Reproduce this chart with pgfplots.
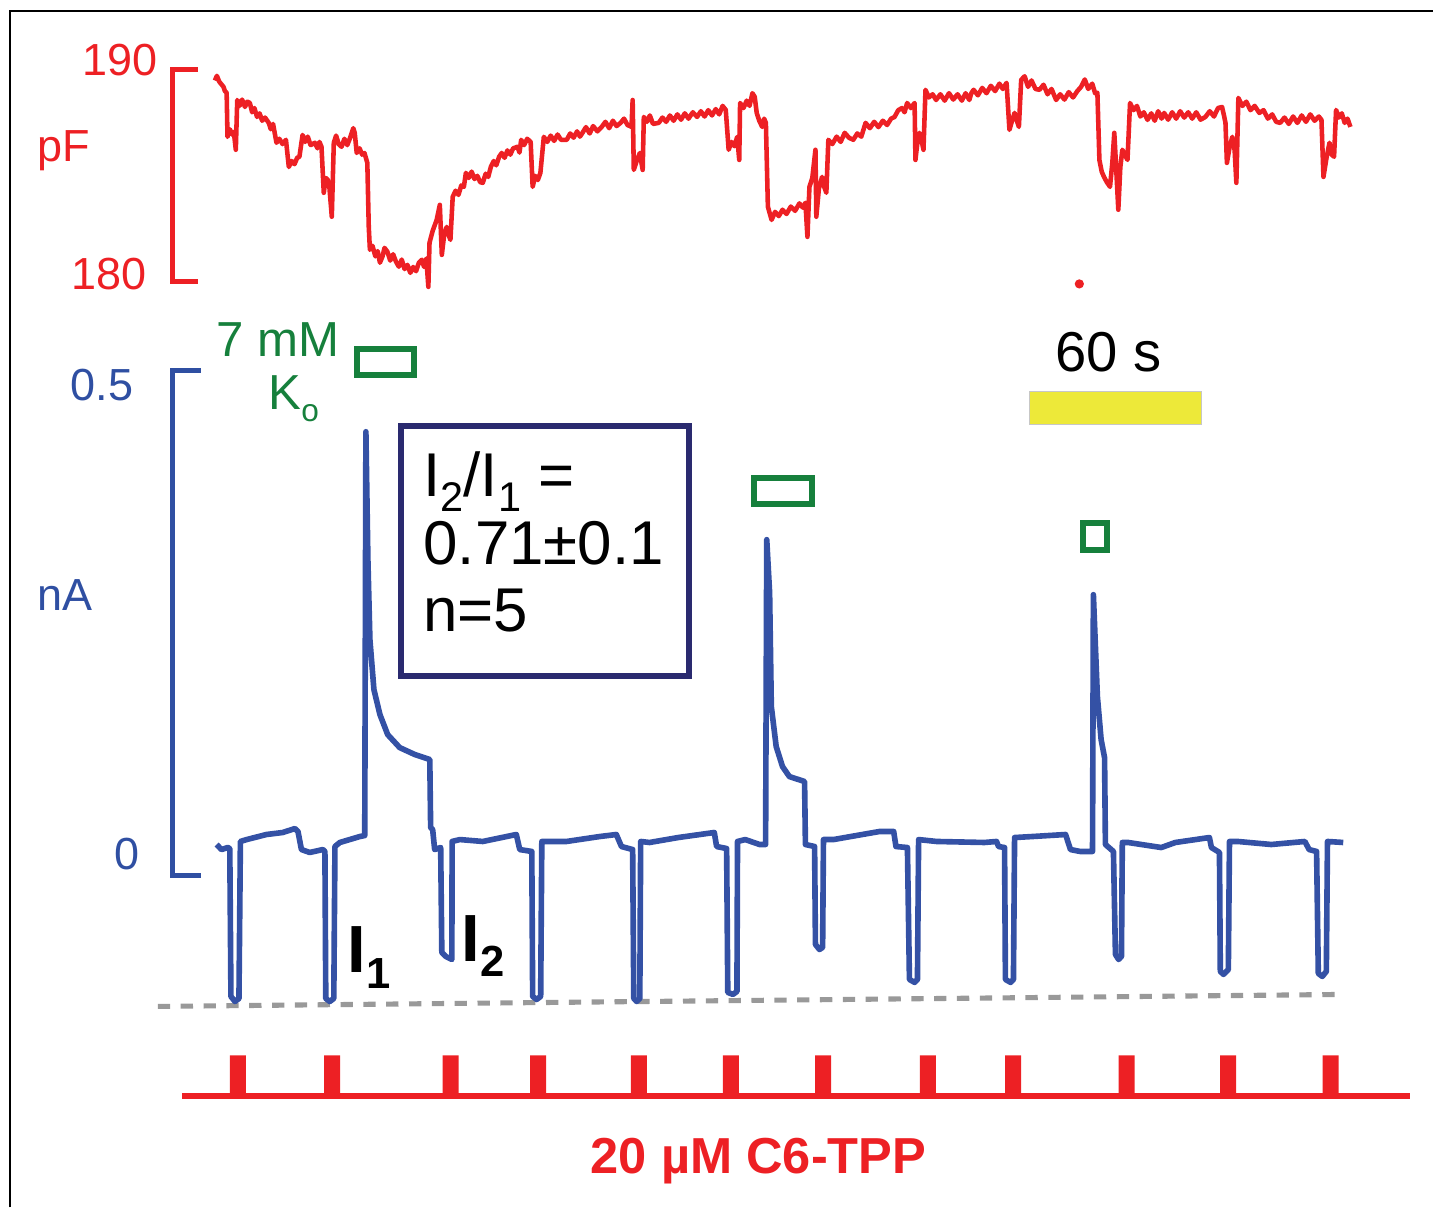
\documentclass[border=0pt]{standalone}
\usepackage{fontspec}
\setmainfont{Liberation Sans}
\usepackage{pgfplots}
\pgfplotsset{compat=1.18}
\definecolor{CapRed}{HTML}{ED2024}
\definecolor{CurBlue}{HTML}{3451A5}
\definecolor{LblBlue}{HTML}{2F4FA2}
\definecolor{KGreen}{HTML}{16803C}
\definecolor{BoxNavy}{HTML}{2A2A6F}
\definecolor{BarYel}{HTML}{EDE939}
\definecolor{DashGray}{HTML}{999999}

% every panel shares the same frame: time in s along x
\pgfplotsset{panel/.style={scale only axis,width=14.34cm,height=12.08cm,
  xmin=-75,xmax=425.2,hide axis,clip=false,at={(0,0)},anchor=south west}}

\begin{document}
\begin{tikzpicture}
% ---- stimulus (C6-TPP) panel, 0 = off, 1 = on
\begin{axis}[panel,ymin=-2.7073,ymax=26.756]
\path (rel axis cs:0,0) rectangle (rel axis cs:1,1);
\draw[black,line width=0.45pt] (rel axis cs:0.00697,0) -- (rel axis cs:0.00697,0.99089) -- (rel axis cs:1,0.99089);
\addplot[CapRed,line width=1.71pt] coordinates {(-11.5,0) (417.2,0)};
\addplot[ybar,bar width=5.58,fill=CapRed,draw=none] coordinates {
  (8.0,1) (40.9,1) (82.3,1) (112.8,1) (148.0,1) (180.1,1)
  (212.3,1) (248.8,1) (278.6,1) (318.2,1) (353.6,1) (389.4,1)};
\node[anchor=base,inner sep=0,CapRed] at (rel axis cs:0.5293,0.0281)
  {\fontsize{14.4}{17}\selectfont\bfseries 20 µM C6-TPP};
\end{axis}

% ---- capacitance panel (pF)
\begin{axis}[panel,ymin=136.32,ymax=193.30]
\addplot[CapRed,line width=1.42pt,line join=miter] coordinates {(-5.93,190) (-14.8,190) (-14.8,180) (-5.93,180)};
\addplot[CapRed,line width=1.3pt,line join=round] coordinates {
(0,189.5) (0.7,189.72) (1.5,189.45) (2.1,189.35) (3,189.2) (3.5,189.0) (4.1,188.92)
(4.4,186.84) (5.2,187.2) (6.0,186.95) (6.6,187.08) (7.3,186.23) (7.8,188.58) (8.6,188.3) (9.5,188.6)
(10.5,188.25) (11.3,188.5) (12.2,188.44) (13.0,188.0) (13.8,188.2) (14.7,187.78) (15.6,187.95)
(16.5,187.6) (17.5,187.75) (18.8,187.5) (19.5,187.2) (20.3,187.45) (21.5,186.56) (22.5,186.75)
(23.6,186.5) (24.8,186.7) (25.8,185.42) (26.8,185.7) (27.8,185.55) (28.7,185.85) (29.5,185.9)
(30.6,186.93) (31.5,186.6) (32.4,186.85) (33.4,186.45) (34.9,186.56) (35.8,186.3) (36.5,186.6)
(37.2,186.37) (38.0,184.2) (38.7,184.9) (39.4,184.81) (40.0,184.4) (40.8,183.07) (41.5,186.56)
(42.3,186.9) (43.2,186.5) (44.2,186.37) (45.2,186.75) (46.2,186.45) (47.2,186.8) (48.3,187.25)
(48.8,187.03) (49.5,186.08) (50.5,186.3) (51.4,186.0) (52.2,186.08) (53.2,185.61) (53.7,182.59)
(54.1,181.51) (55.0,181.7) (56.0,181.2) (56.8,181.45) (57.6,180.9) (58.5,181.2) (59.2,181.6)
(60.2,181.42) (61.2,181.0) (62.2,181.3) (63.2,180.95) (64.2,180.71) (65.2,181.05) (66.2,180.6)
(67.2,180.8) (68.2,180.42) (69.2,180.7) (70.2,180.5) (71.2,180.9) (72.2,181.04) (73.0,180.7)
(73.8,181.1) (74.5,179.76) (74.9,181.84) (76.0,182.4) (77.4,182.92) (78.5,183.63) (79.2,181.27)
(80.0,182.2) (80.9,182.59) (81.6,182.2) (82.2,181.98) (83.0,184.01) (84.0,184.3) (85.0,184.1)
(86.0,184.55) (86.9,184.48) (87.6,185.14) (88.6,184.9) (89.6,185.2) (90.6,184.85) (91.6,185.0)
(92.6,184.7) (93.5,184.67) (94.5,185.1) (95.4,184.95) (96.3,185.42) (97.3,185.7) (98.2,185.5)
(99.2,185.9) (100.1,186.08) (101.1,185.85) (102.1,186.2) (103.1,186.0) (104.1,186.3) (105.6,186.37)
(106.3,186.1) (106.9,186.7) (107.9,186.45) (109.0,186.75) (110.2,186.6) (110.9,184.48) (111.8,185.0)
(112.7,184.8) (113.6,185.14) (114.8,186.84) (116.0,186.6) (117.2,186.9) (118.4,186.65) (119.6,186.95)
(120.8,186.7) (122.8,186.7) (124.0,187.0) (125.2,186.8) (126.4,187.1) (127.4,186.85) (128.3,187.03)
(129.5,187.3) (130.8,187.0) (132.0,187.35) (133.5,187.1) (135.0,187.31) (136.3,187.55) (137.6,187.25)
(138.9,187.6) (140.2,187.35) (141.6,187.5) (142.8,187.7) (144.0,187.4) (145.4,187.31) (145.8,188.58)
(146.2,185.28) (147.2,185.7) (148.3,186.08) (149.3,185.28) (149.7,187.78) (150.8,187.55) (151.8,187.85)
(152.9,187.45) (154.9,187.5) (156.2,187.75) (157.5,187.55) (158.8,187.85) (160.1,187.6) (161.4,187.9)
(162.7,187.65) (164.0,187.95) (165.3,187.7) (166.8,188.0) (168.3,187.78) (169.6,188.05) (170.9,187.8)
(172.2,188.1) (173.5,187.85) (174.8,188.15) (176.0,187.9) (177.2,188.3) (178.3,188.11) (179.3,186.23)
(180.3,186.6) (181.3,186.4) (182.3,186.84) (183.0,185.75) (183.3,188.44) (184.5,188.2) (185.6,188.55)
(186.6,188.3) (187.6,188.9) (188.4,188.73) (189.1,187.97) (190.0,187.6) (191.0,187.31) (191.7,187.7)
(192.3,187.5) (193.0,183.54) (194.3,182.92) (195.5,183.3) (196.8,183.1) (198.1,183.4) (199.5,183.2)
(201.0,183.55) (202.5,183.35) (204.0,183.7) (205.2,183.5) (206.1,183.73) (206.8,182.12) (207.5,184.48)
(208.5,184.9) (209.6,186.23) (209.9,183.07) (210.8,184.4) (211.9,184.95) (212.6,184.5) (213.4,184.2)
(214.1,186.7) (215.5,186.5) (217.0,186.85) (218.4,186.6) (219.8,187.03) (221.3,186.8) (222.8,186.7)
(224.2,187.0) (225.6,186.85) (227.1,187.5) (228.6,187.25) (230.1,187.55) (231.6,187.3) (233.1,187.6)
(234.6,187.4) (236.0,187.7) (237.2,187.78) (238.5,188.1) (239.8,188.2) (240.7,188.0) (241.6,188.44)
(242.9,188.2) (244.2,188.44) (244.5,185.75) (245.2,186.6) (245.9,187.03) (246.6,186.7) (247.3,186.23)
(248.0,189.06) (249.2,188.7) (250.5,188.85) (251.7,188.58) (253.2,188.85) (254.7,188.55) (256.2,188.9)
(257.7,188.6) (259.2,188.85) (260.7,188.55) (262.0,188.9) (263.3,188.58) (264.0,188.9) (264.8,189.06)
(266.3,188.8) (267.8,189.15) (269.3,188.9) (270.8,189.25) (272.3,189.0) (273.8,189.35) (275.0,189.1)
(276.3,189.39) (277.3,187.17) (278.2,187.6) (279.1,187.97) (279.9,187.6) (280.6,187.31) (281.4,189.53)
(282.6,189.7) (283.8,189.2) (285.0,189.5) (286.4,189.1) (287.8,189.06) (289.2,189.3) (290.6,188.85)
(292.0,189.1) (293.6,188.58) (295.0,188.85) (296.5,188.6) (298.0,188.95) (299.5,188.7) (301.0,189.0)
(302.3,189.2) (303.6,189.55) (304.8,189.1) (306.2,189.35) (307.2,188.9) (308.0,188.92) (308.7,185.75)
(309.5,185.2) (310.3,184.95) (311.3,184.7) (312.4,184.48) (313.2,185.6) (313.9,187.03) (314.5,185.5)
(315.3,183.4) (316.0,185.4) (316.7,186.23) (317.6,186.0) (318.5,185.75) (319.4,188.44) (320.6,188.1)
(321.8,188.3) (323.0,187.8) (324.2,188.0) (325.5,187.64) (326.8,187.95) (328.0,187.6) (329.2,188.05)
(330.4,187.7) (331.3,187.97) (332.7,187.65) (334.1,188.0) (335.5,187.7) (336.9,188.05) (338.3,187.75)
(339.7,188.0) (341.1,187.7) (342.5,188.0) (344.0,187.65) (345.7,187.78) (347.2,188.05) (348.7,187.8)
(350.1,188.2) (351.5,188.25) (352.1,187.9) (352.7,187.5) (353.2,185.61) (354.2,186.4) (355.1,186.84)
(355.9,186.2) (356.5,184.67) (357.2,188.68) (358.6,188.3) (360.0,188.5) (361.4,188.1) (362.9,188.3)
(364.5,187.97) (366.0,188.1) (367.5,187.7) (369.0,187.9) (370.4,187.55) (371.8,187.5) (373.3,187.75)
(374.8,187.45) (376.3,187.8) (377.8,187.5) (379.3,187.85) (380.8,187.55) (382.3,187.9) (383.8,187.6)
(385.3,187.8) (386.2,187.64) (386.9,184.95) (387.9,185.8) (389.0,186.56) (389.8,186.0) (390.6,185.9)
(391.3,188.11) (392.3,187.75) (393.3,187.95) (394.3,187.5) (395.3,187.7) (396.3,187.31)};
\addplot[only marks,mark=*,mark size=1.1pt,CapRed] coordinates {(301.7,179.9)};
\end{axis}

% ---- membrane current panel (nA)
\begin{axis}[panel,ymin=-0.3287,ymax=0.8673]
\addplot[DashGray,line width=1.45pt,dash pattern=on 3.5pt off 3.0pt] coordinates {(-19.9,-0.1297) (394.2,-0.1178)};
\addplot[LblBlue,line width=1.42pt,line join=miter] coordinates {(-4.88,0.5) (-14.65,0.5) (-14.65,0) (-4.88,0)};
\addplot[CurBlue,line width=1.6pt,line join=round] coordinates {
(0.6,0.0307) (2.3,0.0257) (4.5,0.0277) (5.2,0.0267) (5.6,-0.1198) (7.0,-0.1248) (8.4,-0.1218)
(8.9,0.0337) (11.1,0.0356) (18.0,0.0406) (23.7,0.0426) (27.9,0.0465) (29.0,0.0436) (30.2,0.0257)
(33.1,0.0228) (37.7,0.0257) (38.4,0.0238) (38.7,-0.1218) (40.1,-0.1248) (41.5,-0.1218) (41.9,0.0287)
(43.6,0.0327) (50.6,0.0386) (52.3,0.0396) (52.7,0.4396) (53.4,0.3129) (54.1,0.2337) (55.5,0.1842)
(57.6,0.1594) (60.3,0.1396) (64.5,0.1267) (69.8,0.1198) (75.0,0.1149) (75.3,0.0475) (76.0,0.0455)
(76.7,0.0257) (78.8,0.0277) (79.2,-0.0762) (80.6,-0.0802) (82.7,-0.0832) (82.8,0.0337) (85.5,0.0356)
(93.5,0.0337) (105.2,0.0406) (106.4,0.0257) (110.6,0.0238) (110.9,-0.1198) (112.3,-0.1228) (113.7,-0.1198)
(114.1,0.0337) (122.7,0.0337) (134.3,0.0386) (140.1,0.0406) (141.9,0.0287) (145.8,0.0257) (146.2,-0.1218)
(147.2,-0.1248) (148.3,-0.1218) (148.6,0.0337) (151.7,0.0327) (161.7,0.0376) (174.3,0.0426) (175.1,0.0287)
(178.6,0.0267) (179.0,-0.1158) (180.8,-0.1178) (182.2,-0.1149) (182.4,0.0337) (185.1,0.0356) (190.1,0.0307)
(192.2,0.0307) (192.6,0.3327) (193.6,0.2802) (194.2,0.1673) (195.9,0.1277) (198.1,0.1079) (200.5,0.0980)
(205.8,0.0931) (206.1,0.0307) (209.3,0.0287) (209.6,-0.0683) (211.0,-0.0733) (212.1,-0.0713) (212.4,0.0356)
(215.9,0.0356) (221.9,0.0386) (232.0,0.0436) (236.9,0.0436) (237.7,0.0287) (241.7,0.0277) (242.4,-0.1030)
(244.2,-0.1059) (245.2,-0.1030) (245.6,0.0356) (251.9,0.0337) (268.6,0.0327) (272.8,0.0337) (273.5,0.0287)
(275.6,0.0277) (275.9,-0.1030) (277.7,-0.1059) (278.7,-0.1030) (279.1,0.0376) (285.3,0.0386) (296.9,0.0406)
(298.6,0.0257) (302.0,0.0238) (306.3,0.0238) (306.6,0.2782) (308.0,0.1772) (309.3,0.1347) (310.5,0.1168)
(310.8,0.0307) (313.6,0.0238) (314.3,-0.0782) (315.4,-0.0832) (316.4,-0.0802) (316.7,0.0327) (318.7,0.0327)
(330.3,0.0277) (335.2,0.0327) (347.1,0.0376) (347.8,0.0277) (350.6,0.0228) (350.9,-0.0950) (352.0,-0.0980)
(353.7,-0.0931) (354.1,0.0337) (357.0,0.0337) (368.7,0.0307) (380.4,0.0337) (381.9,0.0257) (384.5,0.0238)
(385.1,-0.0970) (386.5,-0.1000) (387.9,-0.0950) (388.3,0.0337) (393.8,0.0327)};
% 7 mM K applications
\addplot[KGreen,line width=1.7pt,line join=miter] coordinates {(49.5,0.4960) (69.4,0.4960) (69.4,0.5218) (49.5,0.5218)} --cycle;
\addplot[KGreen,line width=1.7pt,line join=miter] coordinates {(188.0,0.3683) (208.3,0.3683) (208.3,0.3941) (188.0,0.3941)} --cycle;
\addplot[KGreen,line width=1.7pt,line join=miter] coordinates {(303.1,0.3228) (311.5,0.3228) (311.5,0.3495) (303.1,0.3495)} --cycle;
% 60 s scale bar
\addplot[fill=BarYel,draw=black!22,line width=0.3pt] coordinates {(284.3,0.4465) (344.3,0.4465) (344.3,0.4792) (284.3,0.4792)} --cycle;
% ratio box
\addplot[BoxNavy,line width=1.7pt,line join=miter] coordinates {(65.06,0.4450) (165.35,0.4450) (165.35,0.1980) (65.06,0.1980)} --cycle;

\node[anchor=east,inner sep=0,CapRed] at (rel axis cs:0.1102,0.9503) {\fontsize{12.8}{15}\selectfont 190};
\node[anchor=east,inner sep=0,CapRed] at (rel axis cs:0.1025,0.7732) {\fontsize{12.8}{15}\selectfont 180};
\node[anchor=base west,inner sep=0,CapRed] at (rel axis cs:0.0258,0.8659) {\fontsize{12.8}{15}\selectfont pF};
\node[anchor=east,inner sep=0,LblBlue] at (rel axis cs:0.0934,0.6813) {\fontsize{12.8}{15}\selectfont 0.5};
\node[anchor=base west,inner sep=0,LblBlue] at (rel axis cs:0.0258,0.4942) {\fontsize{12.8}{15}\selectfont nA};
\node[anchor=east,inner sep=0,LblBlue] at (rel axis cs:0.0976,0.2922) {\fontsize{12.8}{15}\selectfont 0};
\node[anchor=base west,inner sep=0,KGreen] at (rel axis cs:0.1503,0.7045) {\fontsize{14}{16}\selectfont 7 mM};
\node[anchor=base west,inner sep=0,KGreen] at (rel axis cs:0.1869,0.6606)
  {\fontsize{14}{16}\selectfont K\raisebox{-3.4pt}{\fontsize{9}{10}\selectfont o}};
\node[anchor=base west,inner sep=0] at (rel axis cs:0.2950,0.5886)
  {\fontsize{17.6}{20}\selectfont I\raisebox{-4.3pt}{\fontsize{11.8}{13}\selectfont 2}/I\raisebox{-4.3pt}{\fontsize{11.8}{13}\selectfont 1} =};
\node[anchor=base west,inner sep=0] at (rel axis cs:0.2950,0.5323) {\fontsize{17.6}{20}\selectfont 0.71±0.1};
\node[anchor=base west,inner sep=0] at (rel axis cs:0.2950,0.4768) {\fontsize{17.6}{20}\selectfont n=5};
\node[anchor=base west,inner sep=0] at (rel axis cs:0.7357,0.6921) {\fontsize{16}{19}\selectfont 60 s};
\node[anchor=base west,inner sep=0] at (rel axis cs:0.2420,0.1945)
  {\fontsize{19}{22}\selectfont\bfseries I\raisebox{-4.6pt}{\fontsize{12.4}{14}\selectfont 1}};
\node[anchor=base west,inner sep=0] at (rel axis cs:0.3215,0.2036)
  {\fontsize{19}{22}\selectfont\bfseries I\raisebox{-4.2pt}{\fontsize{12.4}{14}\selectfont 2}};
\end{axis}
\end{tikzpicture}
\end{document}
